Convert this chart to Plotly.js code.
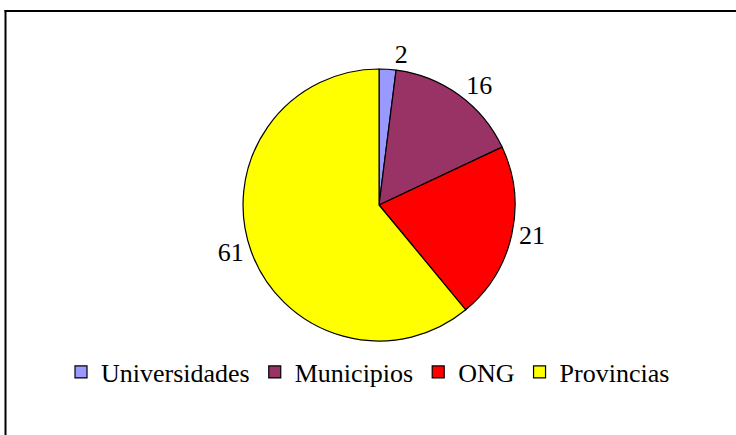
<!DOCTYPE html>
<html>
<head>
<meta charset="utf-8">
<script src="https://cdn.plot.ly/plotly-3.0.1.min.js"></script>
<style>
html,body{margin:0;padding:0;background:#fff;}
#chart{width:736px;height:435px;}
</style>
</head>
<body>
<div id="chart"></div>
<script>
const categories = ["Universidades", "Municipios", "ONG", "Provincias"];
const values = [2, 16, 21, 61];
const colors = ["#9999FF", "#993366", "#FF0000", "#FFFF00"];

const W = 736, H = 435;
const fontFam = "Liberation Serif, Times New Roman, serif";

const trace = {
  type: "pie",
  labels: categories,
  values: values,
  sort: false,
  direction: "clockwise",
  rotation: 0,
  marker: {colors: colors, line: {color: "#000000", width: 1.2}},
  textinfo: "value",
  textposition: "outside",
  outsidetextfont: {family: fontFam, size: 26, color: "#000000"},
  hoverinfo: "label+value",
  domain: {x: [0.30, 0.73], y: [(H - 341) / H, (H - 69) / H]}
};

const layout = {
  width: W, height: H,
  margin: {l: 0, r: 0, t: 0, b: 0},
  paper_bgcolor: "#ffffff",
  font: {family: fontFam, color: "#000000"},
  showlegend: true,
  legend: {
    orientation: "h",
    x: 0.50, xanchor: "center",
    y: (H - 372) / H, yanchor: "middle",
    font: {family: fontFam, size: 26, color: "#000000"},
    itemclick: false, itemdoubleclick: false,
    traceorder: "normal"
  },
  shapes: [
    {type: "line", xref: "paper", yref: "paper", x0: 5.5 / W, x1: 5.5 / W, y0: 1 - 10 / H, y1: 0, line: {color: "#000", width: 2}},
    {type: "line", xref: "paper", yref: "paper", x0: 4.5 / W, x1: 1, y0: 1 - 11 / H, y1: 1 - 11 / H, line: {color: "#000", width: 2}}
  ]
};

Plotly.newPlot("chart", [trace], layout, {displayModeBar: false, staticPlot: true});
</script>
</body>
</html>
